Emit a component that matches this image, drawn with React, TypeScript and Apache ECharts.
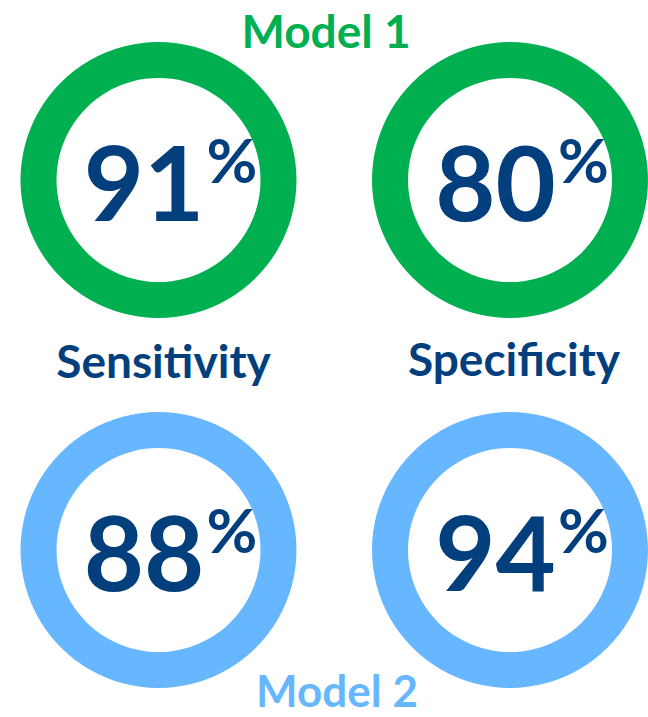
import React, { useEffect, useRef } from "react";
import * as echarts from "echarts";

const models = ["Model 1", "Model 2"];
const metrics = ["Sensitivity", "Specificity"];
const model1Values = [91, 80];
const model2Values = [88, 94];

const GREEN = "#00B050";
const BLUE = "#66B7FF";
const NAVY = "#023F7C";
const FONT = "Lato";

export default function App() {
  const ref = useRef<HTMLDivElement>(null);
  useEffect(() => {
    const chart = echarts.init(ref.current!, null, { renderer: "svg" });
    const colX = [158.5, 510];
    const rowY = [180, 550];
    const rows = [model1Values, model2Values];
    const colors = [GREEN, BLUE];
    const series: any[] = [];
    rows.forEach((vals, r) => {
      vals.forEach((v, c) => {
        series.push({
          type: "pie",
          name: models[r] + " " + metrics[c],
          center: [colX[c], rowY[r]],
          radius: [102, 138],
          silent: true,
          startAngle: 90,
          itemStyle: { color: colors[r] },
          label: {
            show: true,
            position: "center",
            formatter: "{num|{c}}{pct|%}",
            padding: [0, 0, 0, 24],
            rich: {
              num: { fontFamily: FONT, fontWeight: 700, fontSize: 104, color: NAVY, lineHeight: 104 },
              pct: { fontFamily: FONT, fontWeight: 700, fontSize: 62, color: NAVY, verticalAlign: "top", lineHeight: 74, padding: [0, 0, 0, 2] },
            },
          },
          labelLine: { show: false },
          data: [{ value: v, name: metrics[c] }],
        });
      });
    });
    chart.setOption({
      animation: false,
      backgroundColor: "#ffffff",
      series,
      graphic: [
        { type: "text", x: 326, y: 30, style: { text: models[0], fill: GREEN, font: `bold 46px ${FONT}`, textAlign: "center", textVerticalAlign: "middle" } },
        { type: "text", x: 337, y: 690, style: { text: models[1], fill: BLUE, font: `bold 44px ${FONT}`, textAlign: "center", textVerticalAlign: "middle" } },
        { type: "text", x: 163.5, y: 360, style: { text: metrics[0], fill: NAVY, font: `bold 46px ${FONT}`, textAlign: "center", textVerticalAlign: "middle" } },
        { type: "text", x: 514, y: 358, style: { text: metrics[1], fill: NAVY, font: `bold 46px ${FONT}`, textAlign: "center", textVerticalAlign: "middle" } },
      ],
    });
    return () => chart.dispose();
  }, []);
  return <div ref={ref} style={{ position: "fixed", left: 0, top: 0, width: 648, height: 717 }} />;
}
